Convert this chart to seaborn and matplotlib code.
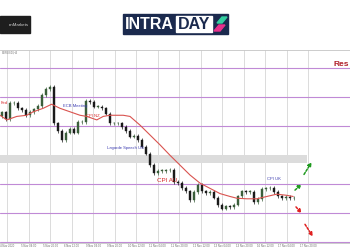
import numpy as np
import pandas as pd
import matplotlib
matplotlib.use("Agg")
import matplotlib.pyplot as plt
import seaborn as sns
from matplotlib.patches import Rectangle, Polygon

# ---- data ----
closes = [1.1023, 1.1011, 1.1039, 1.1039, 1.1030, 1.1027, 1.1018, 1.1024, 1.1028, 1.1034,
          1.1053, 1.1063, 1.1067, 1.1004, 1.0991, 1.0975, 1.0988, 1.0995, 1.0988, 1.1006,
          1.1006, 1.1043, 1.1041, 1.1033, 1.1033, 1.1030, 1.1021, 1.1004, 1.1004, 1.1004,
          1.0998, 1.0991, 1.0981, 1.0983, 1.0975, 1.0964, 1.0952, 1.0932, 1.0918, 1.0922,
          1.0922, 1.0923, 1.0924, 1.0903, 1.0901, 1.0893, 1.0887, 1.0872, 1.0886, 1.0898,
          1.0887, 1.0884, 1.0886, 1.0876, 1.0863, 1.0857, 1.0861, 1.0860, 1.0864, 1.0878,
          1.0887, 1.0886, 1.0886, 1.0868, 1.0874, 1.0891, 1.0892, 1.0893, 1.0886, 1.0878,
          1.0875, 1.0877, 1.0875, 1.0876]
first_open = 1.1016
ma_idx = [-0.5, 1.2, 3.7, 6.2, 7.8, 10.3, 12.4, 14.5, 17.0, 19.5, 21.2, 23.7, 25.3, 27.0,
          30.3, 32.0, 34.5, 37.0, 39.5, 42.0, 44.5, 47.0, 49.5, 52.0, 54.5, 57.0, 58.7,
          61.2, 63.7, 66.2, 68.7, 71.2, 72.8]
ma_val = [1.1018, 1.1010, 1.1016, 1.1018, 1.1024, 1.1030, 1.1037, 1.1030, 1.1024, 1.1018,
          1.1016, 1.1010, 1.1016, 1.1018, 1.1018, 1.1016, 1.1001, 1.0984, 1.0967, 1.0949,
          1.0932, 1.0915, 1.0901, 1.0892, 1.0883, 1.0878, 1.0875, 1.0874, 1.0874, 1.0878,
          1.0882, 1.0880, 1.0878]
levels = [1.0800, 1.0850, 1.0900, 1.1000, 1.1050, 1.1100]
zone_low, zone_high = 1.0935, 1.0950
date_labels = ["4 Nov 2020", "5 Nov 04:00", "5 Nov 20:00", "6 Nov 12:00", "9 Nov 04:00",
               "9 Nov 20:00", "10 Nov 12:00", "11 Nov 04:00", "11 Nov 20:00", "12 Nov 12:00",
               "13 Nov 04:00", "13 Nov 20:00", "16 Nov 12:00", "17 Nov 04:00", "17 Nov 20:00"]
event_text = ["Fed", "ECB Meeting", "CPI NZ", "Lagarde Speech US", "CPI AU", "CPI UK"]
event_x = [-0.4, 15.25, 21.0, 26.25, 38.75, 66.25]
event_y = [1.1039, 1.1034, 1.1017, 1.0962, 1.0905, 1.0908]
event_col = ["#d62728", "#3b3bb0", "#d62728", "#3b3bb0", "#d62728", "#3b3bb0"]
event_size = [3.0, 3.0, 3.0, 3.0, 4.5, 3.0]
scen_start = [(73.25, 1.0889), (75.5, 1.0916), (73.5, 1.0860), (75.75, 1.0830)]
scen_end = [(74.9, 1.0899), (77.4, 1.0937), (74.9, 1.0849), (77.7, 1.0809)]
scen_col = ["#1f9a1f", "#1f9a1f", "#e02020", "#e02020"]

sns.set_theme(style="white")
plt.rcParams["font.family"] = ["Liberation Sans", "DejaVu Sans"]

fig = plt.figure(figsize=(3.5, 2.5), dpi=100)
fig.patch.set_facecolor("white")

# ---- chart ----
ax = fig.add_axes([0, 7 / 250, 1, 193 / 250])
ax.set_xlim(-0.5, 87)
ax.set_ylim(1.07978, 1.11305)
for s in ["left", "right"]:
    ax.spines[s].set_visible(False)
for s in ["top", "bottom"]:
    ax.spines[s].set_color("#c4c4c4")
    ax.spines[s].set_linewidth(0.6)

grid_x = [1.33 + 5.375 * k for k in range(len(date_labels))]
ax.vlines(grid_x, 1.07978, 1.11305, color="#d6d6d6", lw=0.6, zorder=0)
ax.set_xticks(grid_x)
ax.set_xticklabels(date_labels, fontsize=2, color="#666666")
ax.tick_params(axis="x", length=0, pad=1)
ax.set_yticks([])

ax.axhspan(zone_low, zone_high, xmin=0, xmax=307 / 350, color="#dcdcdc", lw=0, zorder=0)
for lv in levels:
    ax.axhline(lv, color="#c08ad6", lw=0.8, zorder=1)

c = np.array(closes)
o = np.concatenate([[first_open], c[:-1]])
idx = np.arange(len(c))
hi = np.maximum(o, c) + 0.0003
lo = np.minimum(o, c) - 0.0003
bull = c >= o
cols = np.where(bull, "#3a5e3a", "#1a1a1a")
ax.vlines(idx, lo, hi, color=cols, lw=0.5, zorder=3)
ax.bar(idx, np.where(np.abs(c - o) < 0.00008, 0.00008, c - o), bottom=o, width=0.5,
       color=cols, edgecolor=cols, lw=0.3, zorder=3)

df_ma = pd.DataFrame({"i": ma_idx, "ma": ma_val})
sns.lineplot(data=df_ma, x="i", y="ma", ax=ax, color="#d9534f", lw=0.8, zorder=4)
ax.set_xlabel("")
ax.set_ylabel("")

for t, x, y, col, fs in zip(event_text, event_x, event_y, event_col, event_size):
    ax.text(x, y, t, color=col, fontsize=fs, ha="left", va="center", zorder=5)

ax.text(86.8, 1.1105, "Res", color="#b0202a", fontsize=6, fontweight="bold",
        ha="right", va="center", zorder=5)
ax.text(0, 1.1127, "EURUSD,H4", color="#777777", fontsize=2, ha="left", va="center")

for (x0, y0), (x1, y1), col in zip(scen_start, scen_end, scen_col):
    ax.annotate("", xy=(x1, y1), xytext=(x0, y0),
                arrowprops=dict(arrowstyle="-|>", color=col, lw=1.1,
                                linestyle=(0, (1.5, 1)), mutation_scale=5,
                                shrinkA=0, shrinkB=0), zorder=6)

# ---- header ----
hax = fig.add_axes([0, 0, 1, 1], zorder=-1)
hax.set_xlim(0, 350)
hax.set_ylim(250, 0)
hax.axis("off")
hax.add_patch(Rectangle((0, 16), 30, 17, color="#1e1e1e"))
hax.text(29, 24.5, "enMarkets", color="#d0d0d0", fontsize=3.2, ha="right", va="center")
hax.add_patch(Rectangle((123, 14), 105, 20, color="#1b2a4e"))
hax.text(149, 24.3, "INTRA", color="white", fontsize=11.5, fontweight="bold",
         ha="center", va="center")
hax.add_patch(Rectangle((175.5, 16), 36.5, 16, color="white"))
hax.text(193.7, 24.3, "DAY", color="#1b2a4e", fontsize=11.5, fontweight="bold",
         ha="center", va="center")
hax.add_patch(Polygon([(217, 23), (222, 17), (227, 17), (222, 23)], color="#33cfa0"))
hax.add_patch(Polygon([(214, 31), (219, 25), (225, 25), (220, 31)], color="#e8308c"))

fig.savefig("out.png", dpi=100)
